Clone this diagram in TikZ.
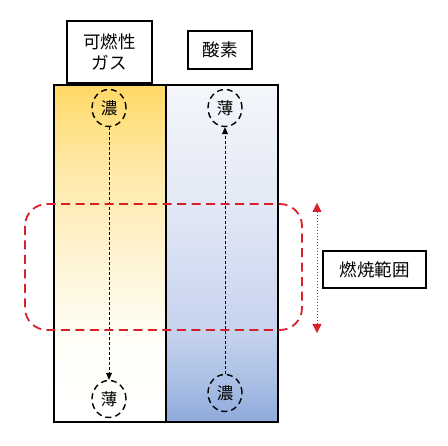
\documentclass[tikz,border=0pt]{standalone}
\usepackage{fontspec}
\setmainfont{Noto Sans CJK JP}
\usetikzlibrary{arrows.meta,shapes.geometric}
\definecolor{rangeRed}{HTML}{D8202A}
\pgfdeclareverticalshading{gasshade}{100bp}{%
  color(0bp)=(white); color(25bp)=(white);
  color(37bp)=({rgb,255:red,255;green,254;blue,248});
  color(50.5bp)=({rgb,255:red,255;green,243;blue,208});
  color(62.4bp)=({rgb,255:red,255;green,233;blue,168});
  color(75bp)=({rgb,255:red,255;green,217;blue,102});
  color(100bp)=({rgb,255:red,255;green,217;blue,102})}
\pgfdeclareverticalshading{oxshade}{100bp}{%
  color(0bp)=({rgb,255:red,142;green,169;blue,219});
  color(25bp)=({rgb,255:red,142;green,169;blue,219});
  color(31.2bp)=({rgb,255:red,171;green,192;blue,229});
  color(38.6bp)=({rgb,255:red,198;green,211;blue,238});
  color(57.2bp)=({rgb,255:red,226;green,232;blue,245});
  color(75bp)=({rgb,255:red,244;green,246;blue,251});
  color(100bp)=({rgb,255:red,244;green,246;blue,251})}
\begin{document}
\begin{tikzpicture}[x=1pt,y=-1pt,
  labelbox/.style={draw=black,line width=1.6pt,fill=white,align=center,font=\fontsize{17.5}{21}\selectfont,inner sep=0pt},
  concircle/.style={draw=black,dash pattern=on 6pt off 4pt,line width=1.4pt,ellipse,minimum width=34pt,minimum height=37pt,inner sep=0pt,font=\fontsize{16.5}{16.5}\selectfont},
  flowarrow/.style={dash pattern=on 3pt off 2pt,line width=0.8pt,-{Triangle[length=7pt,width=6pt]}},
  colborder/.style={draw=black,line width=1.6pt}]
\useasboundingbox (0,0) rectangle (448,446);
% columns
\shade[shading=gasshade] (54,85) rectangle (166,422);
\shade[shading=oxshade] (166,85) rectangle (278,422);
\draw[colborder] (54,85) rectangle (166,422);
\draw[colborder] (166,85) rectangle (278,422);
% labels
\node[labelbox,minimum width=85pt,minimum height=62pt] (gas) at (109.5,52) {可燃性\\ガス};
\node[labelbox,minimum width=64pt,minimum height=38pt] (ox) at (220,50) {酸素};
% circles
\node[concircle] (gtop) at (109,108) {濃};
\node[concircle] (gbot) at (109,399) {薄};
\node[concircle] (otop) at (225,108) {薄};
\node[concircle] (obot) at (225,393) {濃};
\draw[flowarrow] (gtop) -- (gbot);
\draw[flowarrow] (obot) -- (otop);
% combustion range
\draw[rangeRed,line width=1.8pt,dash pattern=on 9pt off 5.5pt,rounded corners=22pt] (25,204) rectangle (302,330);
\coordinate (rtop) at (317,203);
\coordinate (rbot) at (317,333);
\draw[rangeRed,line width=0.8pt,dash pattern=on 1.5pt off 1.5pt,{Triangle[length=9pt,width=9pt]}-{Triangle[length=9pt,width=9pt]}] (rtop) -- (rbot);
\node[labelbox,minimum width=103pt,minimum height=37pt] (range) at (374.5,269.5) {燃焼範囲};
\end{tikzpicture}
\end{document}
